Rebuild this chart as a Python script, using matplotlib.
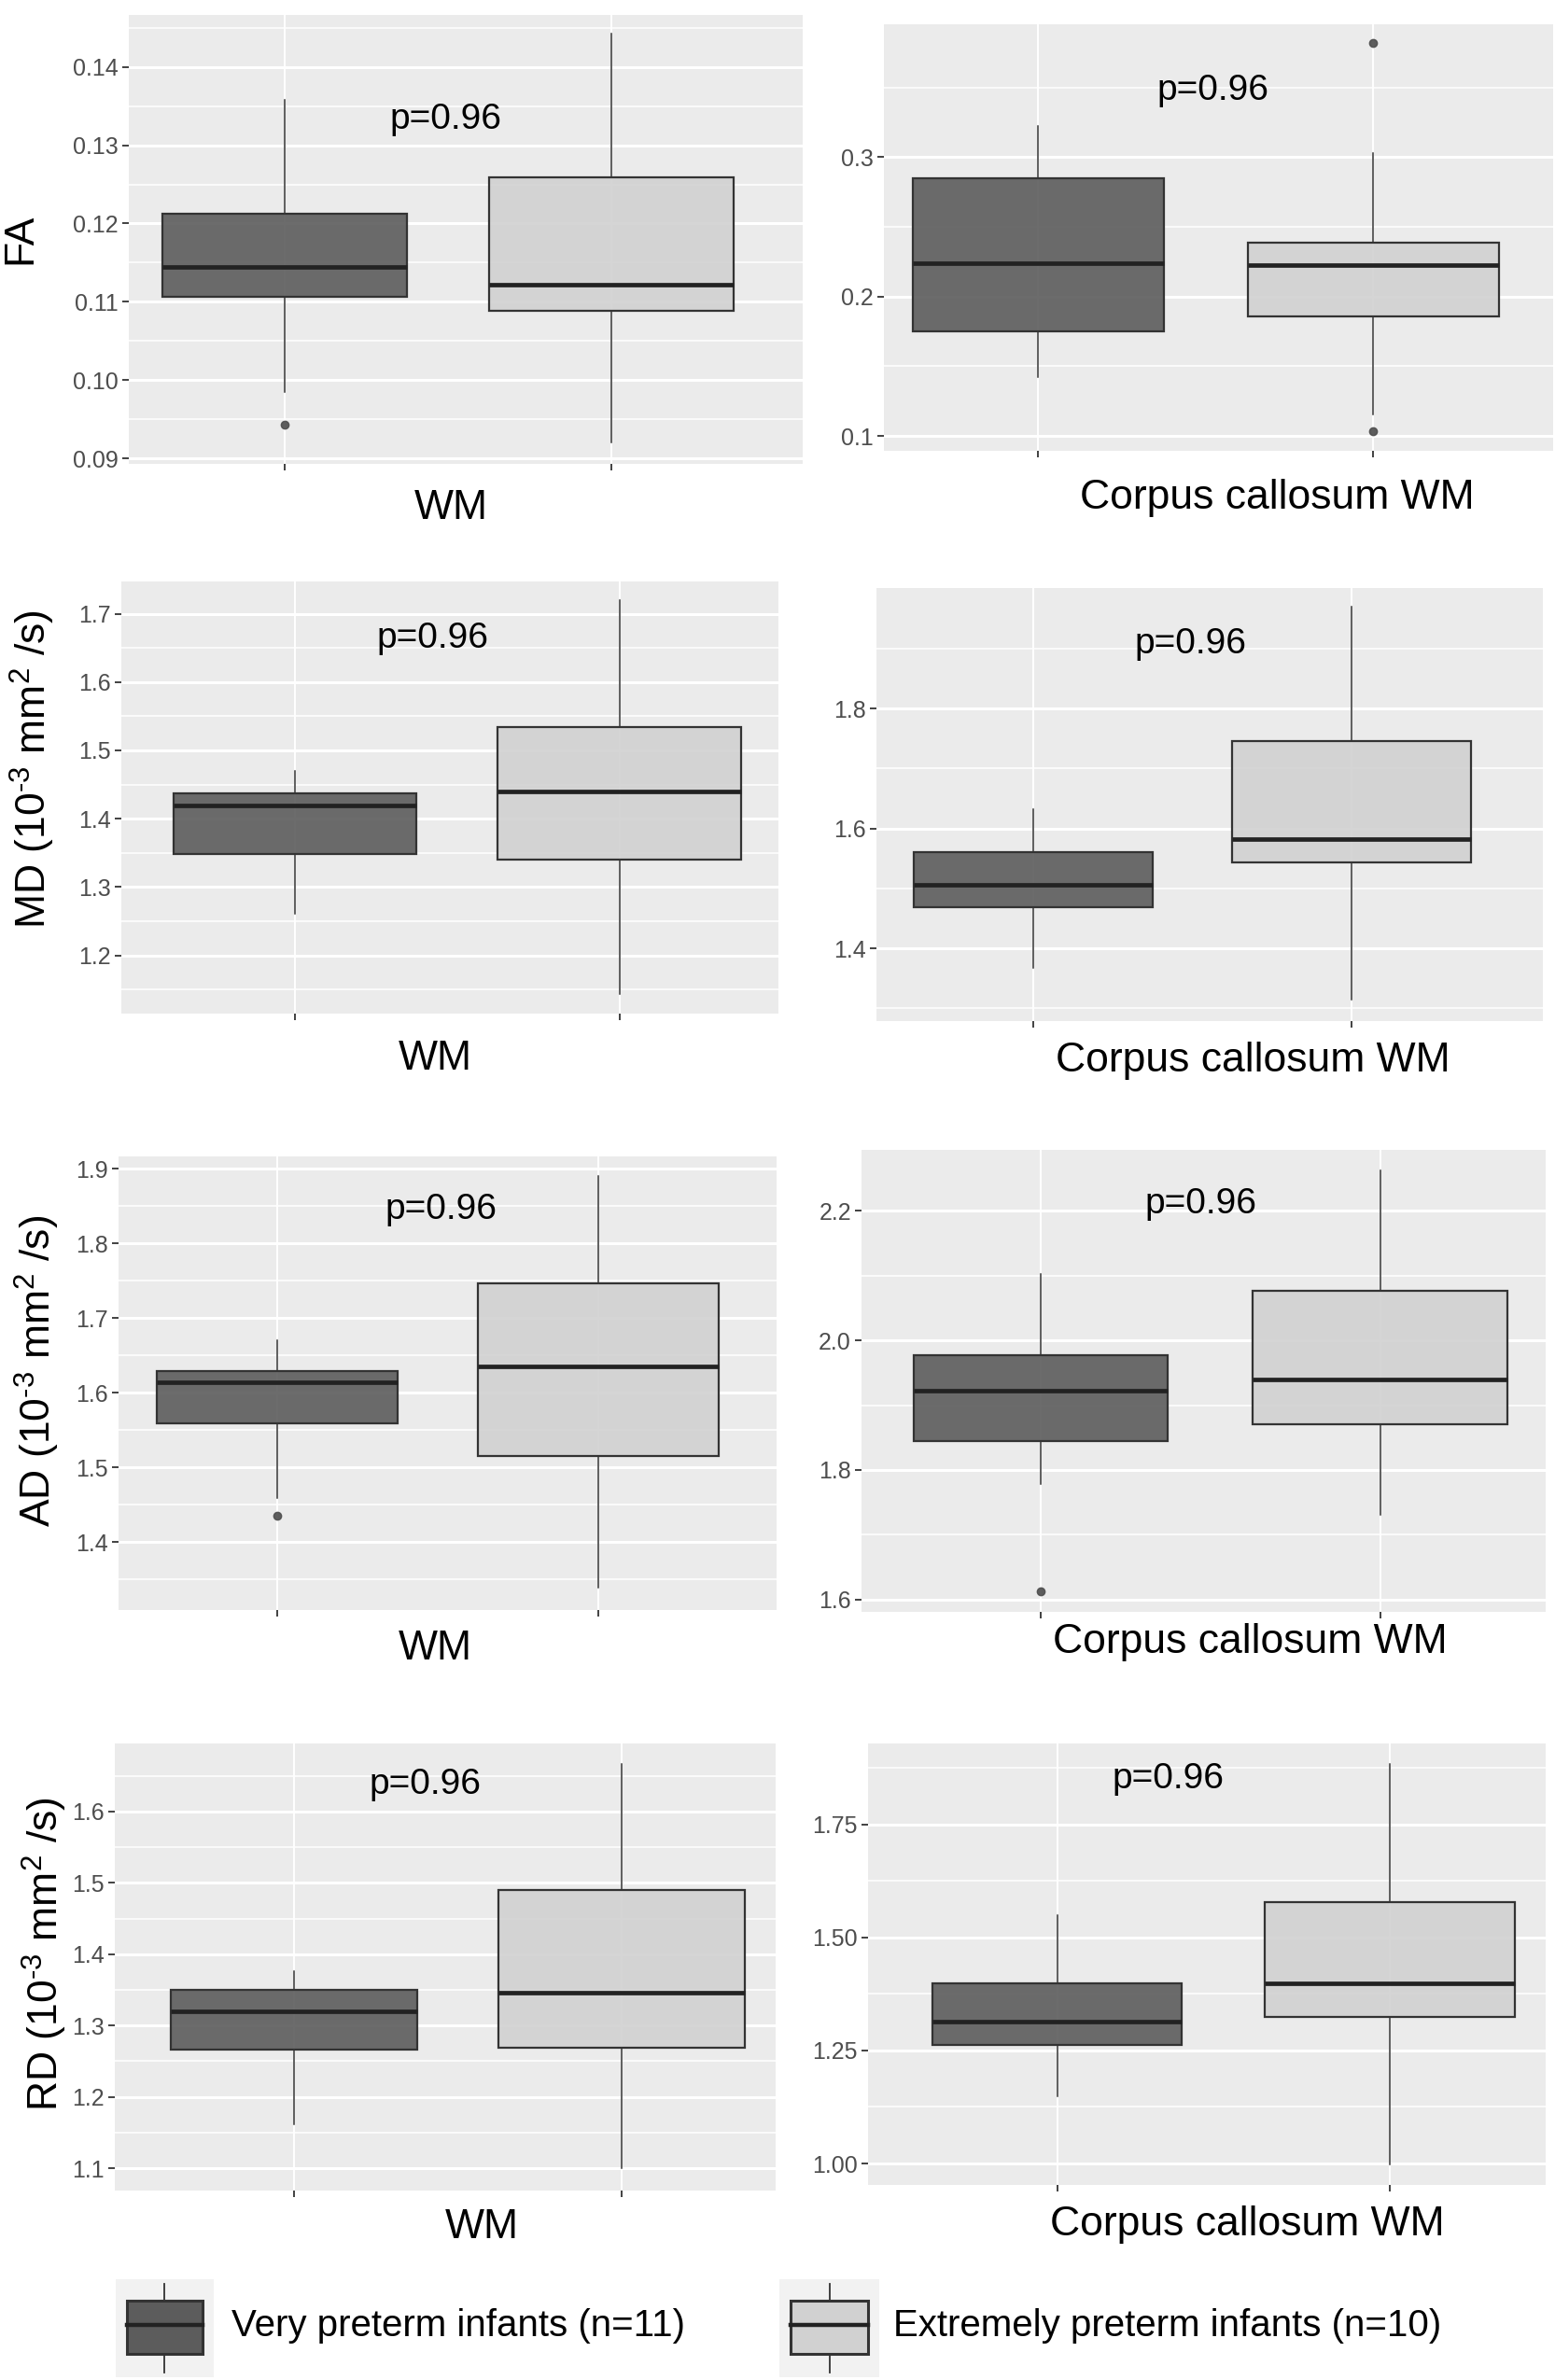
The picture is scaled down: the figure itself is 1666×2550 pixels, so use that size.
import matplotlib
matplotlib.use("Agg")
import matplotlib.pyplot as plt
from matplotlib import font_manager
from matplotlib.patches import Rectangle
from matplotlib.lines import Line2D

# ---------------- data (whislo, q1, median, q3, whishi) ----------------
groups = ["Very preterm infants (n=11)", "Extremely preterm infants (n=10)"]
regions = ["WM", "Corpus callosum WM"]
metric_labels = ["FA",
                 r"MD (10$^{\text{-3}}$ mm$^{\text{2}}$ /s)",
                 r"AD (10$^{\text{-3}}$ mm$^{\text{2}}$ /s)",
                 r"RD (10$^{\text{-3}}$ mm$^{\text{2}}$ /s)"]
p_value_text = "p=0.96"

fa_wm_vp = [0.0985, 0.1106, 0.1145, 0.1212, 0.1358]
fa_wm_vp_out = [0.0943]
fa_wm_ep = [0.0921, 0.1089, 0.1122, 0.1259, 0.1442]
fa_wm_ep_out = []
fa_cc_vp = [0.1419, 0.1748, 0.2239, 0.2849, 0.3223]
fa_cc_vp_out = []
fa_cc_ep = [0.1154, 0.1860, 0.2227, 0.2388, 0.3032]
fa_cc_ep_out = [0.1035, 0.3818]

md_wm_vp = [1.2612, 1.3476, 1.4196, 1.4366, 1.4695]
md_wm_vp_out = []
md_wm_ep = [1.1434, 1.3399, 1.4397, 1.5338, 1.7206]
md_wm_ep_out = []
md_cc_vp = [1.3678, 1.4685, 1.5054, 1.5610, 1.6330]
md_cc_vp_out = []
md_cc_ep = [1.3150, 1.5441, 1.5821, 1.7455, 1.9698]
md_cc_ep_out = []

ad_wm_vp = [1.4589, 1.5593, 1.6144, 1.6292, 1.6703]
ad_wm_vp_out = [1.435]
ad_wm_ep = [1.3388, 1.5148, 1.6359, 1.7469, 1.8904]
ad_wm_ep_out = []
ad_cc_vp = [1.7781, 1.8443, 1.9221, 1.9772, 2.1024]
ad_cc_vp_out = [1.6132]
ad_cc_ep = [1.7312, 1.8702, 1.9397, 2.0759, 2.2623]
ad_cc_ep_out = []

rd_wm_vp = [1.1616, 1.2658, 1.3194, 1.3495, 1.3756]
rd_wm_vp_out = []
rd_wm_ep = [1.1005, 1.2693, 1.3465, 1.4898, 1.6666]
rd_wm_ep_out = []
rd_cc_vp = [1.1480, 1.2627, 1.3141, 1.3980, 1.5498]
rd_cc_vp_out = []
rd_cc_ep = [0.9976, 1.3236, 1.3995, 1.5775, 1.8845]
rd_cc_ep_out = []

# y tick labels per panel
fa_wm_ticks = ["0.09", "0.10", "0.11", "0.12", "0.13", "0.14"]
fa_cc_ticks = ["0.1", "0.2", "0.3"]
md_wm_ticks = ["1.2", "1.3", "1.4", "1.5", "1.6", "1.7"]
md_cc_ticks = ["1.4", "1.6", "1.8"]
ad_wm_ticks = ["1.4", "1.5", "1.6", "1.7", "1.8", "1.9"]
ad_cc_ticks = ["1.6", "1.8", "2.0", "2.2"]
rd_wm_ticks = ["1.1", "1.2", "1.3", "1.4", "1.5", "1.6"]
rd_cc_ticks = ["1.00", "1.25", "1.50", "1.75"]

# ---------------- layout / style ----------------
W, H = 1666, 2550
fig = plt.figure(figsize=(W / 100, H / 100), dpi=100)
fig.patch.set_facecolor("white")

names = {f.name for f in font_manager.fontManager.ttflist}
base_font = "Liberation Sans" if "Liberation Sans" in names else "DejaVu Sans"
if "Liberation Sans Narrow" in names:
    tick_font, tick_size = "Liberation Sans Narrow", 20
else:
    tick_font, tick_size = base_font, 18

plt.rcParams["font.family"] = [base_font, "DejaVu Sans"]
plt.rcParams["mathtext.fontset"] = "custom"
plt.rcParams["mathtext.rm"] = base_font
plt.rcParams["mathtext.it"] = base_font + ":italic"
plt.rcParams["mathtext.bf"] = base_font + ":bold"

DARK = "#5C5C5C"
LIGHT = "#D1D1D1"
EDGE = "#333333"
PANEL_BG = "#EBEBEB"


def rect(x0, x1, y0, y1):
    return [x0 / W, 1 - y1 / H, (x1 - x0) / W, (y1 - y0) / H]


def frange(a, b, step):
    out = []
    v = a
    while v <= b + 1e-9:
        out.append(round(v, 6))
        v += step
    return out


panels = [
    # (vp, vp_out, ep, ep_out, tick labels, minor ticks, px-rect, xlim, ylim)
    (fa_wm_vp, fa_wm_vp_out, fa_wm_ep, fa_wm_ep_out, fa_wm_ticks, frange(0.085, 0.1455, 0.01),
     (138, 860, 15.5, 497), (0.521, 2.587), (0.0893, 0.1467)),
    (fa_cc_vp, fa_cc_vp_out, fa_cc_ep, fa_cc_ep_out, fa_cc_ticks, [0.15, 0.25, 0.35],
     (947, 1664, 26, 483), (0.539, 2.538), (0.0893, 0.3954)),
    (md_wm_vp, md_wm_vp_out, md_wm_ep, md_wm_ep_out, md_wm_ticks, frange(1.15, 1.75, 0.1),
     (130, 834, 623, 1086), (0.465, 2.49), (1.1146, 1.7473)),
    (md_cc_vp, md_cc_vp_out, md_cc_ep, md_cc_ep_out, md_cc_ticks, [1.3, 1.5, 1.7, 1.9],
     (939, 1653, 629.5, 1094), (0.508, 2.60), (1.2788, 2.002)),
    (ad_wm_vp, ad_wm_vp_out, ad_wm_ep, ad_wm_ep_out, ad_wm_ticks, frange(1.35, 1.85, 0.1),
     (126.5, 832, 1239, 1725), (0.505, 2.556), (1.309, 1.9167)),
    (ad_cc_vp, ad_cc_vp_out, ad_cc_ep, ad_cc_ep_out, ad_cc_ticks, [1.7, 1.9, 2.1],
     (923, 1656, 1232, 1727), (0.472, 2.488), (1.5812, 2.2937)),
    (rd_wm_vp, rd_wm_vp_out, rd_wm_ep, rd_wm_ep_out, rd_wm_ticks, frange(1.15, 1.65, 0.1),
     (123, 831, 1868, 2347), (0.453, 2.47), (1.0689, 1.6952)),
    (rd_cc_vp, rd_cc_vp_out, rd_cc_ep, rd_cc_ep_out, rd_cc_ticks, [1.125, 1.375, 1.625, 1.875],
     (930, 1656, 1868, 2341), (0.432, 2.468), (0.9525, 1.9296)),
]

p_pos = [(477, 128), (1299, 97), (463, 684), (1275, 690),
         (472, 1296), (1286, 1290), (455, 1912), (1251, 1906)]
xlab_pos = [(483, 544), (1368, 533), (466, 1135), (1342, 1137),
            (466, 1767), (1339, 1759), (516, 2387), (1336, 2383)]
ylab_pos = [(22, 256), (35, 824), (40, 1469), (48, 2094)]


def make_stats(v, out):
    return {"whislo": v[0], "q1": v[1], "med": v[2], "q3": v[3], "whishi": v[4],
            "fliers": out}


for i, (vp, vp_out, ep, ep_out, tlabels, minors, pr, xl, yl) in enumerate(panels):
    ax = fig.add_axes(rect(*pr))
    ax.set_facecolor(PANEL_BG)
    for s in ax.spines.values():
        s.set_visible(False)
    bp = ax.bxp([make_stats(vp, vp_out), make_stats(ep, ep_out)], positions=[1, 2],
                widths=0.75, patch_artist=True, showcaps=False,
                boxprops=dict(edgecolor=EDGE, linewidth=1.6),
                medianprops=dict(color="#222222", linewidth=3.4, solid_capstyle="butt"),
                whiskerprops=dict(color=EDGE, linewidth=1.1),
                flierprops=dict(marker="o", markersize=6, markerfacecolor="#4D4D4D",
                                markeredgecolor="#4D4D4D", alpha=0.9))
    for patch, col in zip(bp["boxes"], [DARK, LIGHT]):
        patch.set_facecolor(matplotlib.colors.to_rgba(col, 0.9))
    for el in bp["boxes"] + bp["medians"] + bp["whiskers"] + bp["fliers"]:
        el.set_zorder(3)

    tvals = [float(t) for t in tlabels]
    ax.set_yticks(tvals)
    ax.set_yticklabels(tlabels, fontfamily=tick_font, fontsize=tick_size, color="#4D4D4D")
    ax.set_yticks(minors, minor=True)
    ax.set_xticks([1, 2])
    ax.set_xticklabels(["", ""])
    ax.set_xlim(*xl)
    ax.set_ylim(*yl)
    ax.set_axisbelow(True)
    ax.grid(which="major", axis="y", color="white", linewidth=2.2)
    ax.grid(which="minor", axis="y", color="white", linewidth=1.1)
    ax.grid(which="major", axis="x", color="white", linewidth=1.4)
    ax.tick_params(axis="y", which="minor", length=0)
    ax.tick_params(axis="both", which="major", length=5, width=1.3, color=EDGE, pad=3)

    fig.text(p_pos[i][0] / W, 1 - p_pos[i][1] / H, p_value_text, fontsize=28,
             ha="center", va="center", color="black")
    fig.text(xlab_pos[i][0] / W, 1 - xlab_pos[i][1] / H, regions[i % 2], fontsize=32,
             ha="center", va="center", color="black")

for j, lab in enumerate(metric_labels):
    fig.text(ylab_pos[j][0] / W, 1 - ylab_pos[j][1] / H, lab, fontsize=32,
             rotation=90, ha="center", va="center", color="black")

# ---------------- legend ----------------
key_rects = [(124, 229, 2442, 2547), (835, 942, 2442, 2547)]
text_x = [248, 957]
for k, (kr, col) in enumerate(zip(key_rects, [DARK, LIGHT])):
    kax = fig.add_axes(rect(*kr))
    kax.set_xlim(0, 1)
    kax.set_ylim(0, 1)
    kax.set_facecolor("#F2F2F2")
    for s in kax.spines.values():
        s.set_visible(False)
    kax.set_xticks([])
    kax.set_yticks([])
    kax.add_line(Line2D([0.5, 0.5], [0.05, 0.24], color=EDGE, lw=1.3))
    kax.add_line(Line2D([0.5, 0.5], [0.78, 0.95], color=EDGE, lw=1.3))
    kax.add_patch(Rectangle((0.11, 0.24), 0.78, 0.54, facecolor=col, edgecolor=EDGE, lw=2.2))
    kax.add_line(Line2D([0.11, 0.89], [0.53, 0.53], color="#222222", lw=3.2))
    fig.text(text_x[k] / W, 1 - 2492 / H, groups[k], fontsize=29, ha="left", va="center",
             color="black")

fig.savefig("out.png", dpi=100, facecolor="white")
